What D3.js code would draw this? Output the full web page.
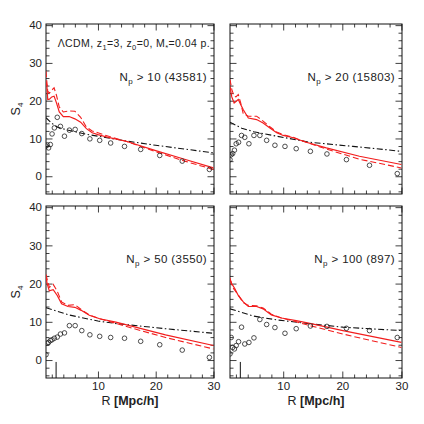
<!DOCTYPE html>
<html>
<head>
<meta charset="utf-8">
<script src="https://cdn.jsdelivr.net/npm/d3@7"></script>
<style>
body{margin:0;background:#fff}
text{font-family:"Liberation Sans",Arial,sans-serif;fill:#222}
</style>
</head>
<body>
<svg width="424" height="424"></svg>
<script>
// ---- data ----
var rBins = [1.0,1.2,1.45,1.75,2.05,2.45,2.95,3.5,4.2,5.05,6.05,7.2,8.6,10.3,12.2,14.6,17.4,20.7,24.6,29.3]

var dotsN10  = [8.0,8.3,7.5,8.4,11.2,12.8,15.6,13.2,10.6,12.2,12.4,11.3,9.9,9.5,8.8,7.9,7.1,5.5,4.0,1.8]
var dotsN20  = [4.4,5.7,6.0,6.9,8.6,9.0,10.8,10.3,8.6,10.8,10.8,9.5,8.2,7.9,7.3,6.6,5.9,4.4,2.9,0.7]
var dotsN50  = [1.4,4.4,4.6,5.1,5.3,5.7,6.0,6.8,7.1,9.0,9.0,7.7,6.6,6.2,5.9,5.7,4.9,4.0,2.6,0.7]
var dotsN100 = [1.6,5.9,3.3,2.9,3.8,4.8,8.6,4.2,4.6,5.8,10.6,9.3,8.5,7.0,8.2,8.9,8.8,8.3,7.7,5.9]

// red solid / red dashed model curves: [R, S4]
var solidN10  = [[1,25],[1.15,24],[1.3,20.3],[1.6,20.4],[2,21],[2.4,21.2],[2.8,19.5],[3.3,17],[4,15.8],[5,15.8],[6,15.2],[7,14.3],[8,12.6],[9,11.5],[10,11],[12,10.2],[15,9.2],[20,6.8],[25,4.5],[30,2.2]]
var dashN10   = [[1,27.8],[1.15,25],[1.3,22.5],[1.6,22],[2,22.8],[2.4,23.4],[2.8,21.5],[3.3,18.3],[4,17],[5,17.3],[6,17.2],[7,15.6],[8,13],[9,12],[10,11.5],[12,10.5],[15,9.2],[20,6.5],[25,4],[30,1.8]]
var solidN20  = [[1,23.8],[1.3,21],[1.7,19.4],[2,19.8],[2.4,20.3],[2.8,19],[3.25,17.6],[4.1,15.4],[5.5,15],[6.6,14.1],[7.75,12.8],[8.9,11.5],[10,10.8],[11.7,10.2],[13.9,9],[17.3,7.5],[22.9,5.3],[30,3.1]]
var dashN20   = [[1,25.6],[1.3,23],[1.7,21.2],[2,21],[2.4,21.6],[2.8,19.5],[3.25,16.5],[4.1,15.9],[5.5,15.9],[6.6,14.6],[7.75,13.1],[8.9,11.7],[10,11],[11.7,10.3],[13.9,9],[17.3,7.2],[22.9,4.5],[30,2.2]]
var solidN50  = [[1,21.7],[1.2,20],[1.57,18.1],[2.25,18.4],[2.95,16.9],[3.7,14.7],[4.8,14],[6,13.8],[7.1,13],[8.5,11.7],[10.3,10.8],[13.1,9.9],[16,8.8],[21.7,6.6],[30,3.8]]
var dashN50   = [[1,22.4],[1.3,20.5],[1.6,19],[2.25,19.8],[2.95,18],[3.7,15.2],[4.8,14.3],[6,14.5],[7.1,13.2],[8.5,11.8],[10.3,10.8],[13.1,9.6],[16,8.3],[21.7,5.9],[30,2.9]]
var solidN100 = [[1,21.5],[1.2,20],[1.45,19.6],[1.8,18.7],[2.4,16.9],[3.25,15.2],[4.1,14],[5.5,14],[6.6,13.4],[8,11.8],[9.7,11],[12.2,10.3],[14.5,9.6],[20.1,7.7],[30,4.6]]
var dashN100  = [[1,21],[1.2,20.5],[1.45,19],[1.8,18.3],[2.4,17],[3.25,15],[4.1,14.3],[5.5,14.2],[6.6,13.6],[8,12],[9.7,11],[12.2,10],[14.5,9],[20.1,6.8],[30,3.3]]

// black dash-dot reference curve: [R, S4]
var dotdashN10  = [[1,15.5],[2,14],[3,13],[4.5,12.3],[6,11.8],[8,11.1],[10,10.6],[15,9.3],[20,8.2],[25,7.2],[30,6.2]]
var dotdashN20  = [[1,14.3],[3,12.7],[5,11.8],[8.9,10.6],[14.5,9],[21.8,7.9],[30,6.6]]
var dotdashN50  = [[1,13.7],[5,11.8],[10,10.2],[13.4,9.5],[21.7,8.2],[30,7]]
var dotdashN100 = [[1,13.4],[5,11.5],[8.9,10.5],[14.5,9.5],[20.1,8.6],[30,7.7]]

var labelN = ["10 (43581)","20 (15803)","50 (3550)","100 (897)"]
var smoothR = 2.75   // vertical marker in lower panels
var xMajor = [10,20,30]
var xMinor = [2,4,6,8,12,14,16,18,22,24,26,28]
var yMajor = [0,10,20,30,40]
var yMinor = [-4,-2,2,4,6,8,12,14,16,18,22,24,26,28,32,34,36,38]

var panels = [
    {x0:46, x1:214, y0:24, y1:194, dots:dotsN10, solid:solidN10, dash:dashN10, dd:dotdashN10, lab:labelN[0], left:true, bottom:false, model:true},
    {x0:230, x1:402, y0:24, y1:194, dots:dotsN20, solid:solidN20, dash:dashN20, dd:dotdashN20, lab:labelN[1], left:false, bottom:false},
    {x0:46, x1:214, y0:206, y1:378, dots:dotsN50, solid:solidN50, dash:dashN50, dd:dotdashN50, lab:labelN[2], left:true, bottom:true},
    {x0:230, x1:402, y0:206, y1:378, dots:dotsN100, solid:solidN100, dash:dashN100, dd:dotdashN100, lab:labelN[3], left:false, bottom:true}
]

var svg = d3.select("svg")

panels.forEach(function(p, i)
{
    var x = d3.scaleLinear().domain([1,30.1]).range([p.x0,p.x1])
    var y = d3.scaleLinear().domain([-4.7,40.3]).range([p.y1,p.y0])
    var g = svg.append("g")

    var clipId = "clip"+i
    g.append("clipPath").attr("id",clipId)
        .append("rect")
        .attr("x",p.x0).attr("y",p.y0)
        .attr("width",p.x1-p.x0).attr("height",p.y1-p.y0)

    // ticks on all four sides, pointing inward
    var sides = [
        [d3.axisBottom, "translate(0,"+p.y1+")", x, xMajor, xMinor, p.bottom],
        [d3.axisTop, "translate(0,"+p.y0+")", x, xMajor, xMinor, false],
        [d3.axisLeft, "translate("+p.x0+",0)", y, yMajor, yMinor, p.left],
        [d3.axisRight, "translate("+p.x1+",0)", y, yMajor, yMinor, false]
    ]
    sides.forEach(function(s)
    {
        var maj = s[0](s[2]).tickValues(s[3]).tickSize(-6.5).tickPadding(4)
        if (!s[5]) maj.tickFormat("")
        var ga = g.append("g").attr("transform",s[1]).call(maj)
        ga.select(".domain").remove()
        ga.selectAll("text").attr("font-size",11.5).style("font-family","Liberation Sans, Arial, sans-serif").attr("fill","#333")
        var mn = g.append("g").attr("transform",s[1])
            .call(s[0](s[2]).tickValues(s[4]).tickSize(-3.5).tickFormat(""))
        mn.select(".domain").remove()
    })
    g.selectAll(".tick line").attr("stroke","#111").attr("stroke-width",0.8)

    g.append("rect")
        .attr("x",p.x0).attr("y",p.y0)
        .attr("width",p.x1-p.x0).attr("height",p.y1-p.y0)
        .attr("fill","none").attr("stroke","#111").attr("stroke-width",1)

    var line = d3.line().x(function(d){return x(d[0])}).y(function(d){return y(d[1])})
    var plot = g.append("g").attr("clip-path","url(#"+clipId+")")

    plot.append("path").attr("d",line(p.dd))
        .attr("fill","none").attr("stroke","#111").attr("stroke-width",1.1)
        .attr("stroke-dasharray","6,2.5,1.5,2.5")
    plot.append("path").attr("d",line(p.dash))
        .attr("fill","none").attr("stroke","#f21d1d").attr("stroke-width",1.1)
        .attr("stroke-dasharray","6,3")
    plot.append("path").attr("d",line(p.solid))
        .attr("fill","none").attr("stroke","#f21d1d").attr("stroke-width",1.2)

    plot.selectAll("circle").data(p.dots).enter().append("circle")
        .attr("cx",function(d,k){return x(rBins[k])})
        .attr("cy",function(d){return y(d)})
        .attr("r",2.3)
        .attr("fill","none").attr("stroke","#222").attr("stroke-width",0.8)

    if (p.bottom)
    {
        plot.append("line")
            .attr("x1",x(smoothR)).attr("x2",x(smoothR))
            .attr("y1",y(-4.7)).attr("y2",y(-0.5))
            .attr("stroke","#111").attr("stroke-width",1)
        g.append("text")
            .attr("x",(p.x0+p.x1)/2).attr("y",405)
            .attr("text-anchor","middle").attr("font-size",12.5)
            .html('R <tspan font-weight="bold">[Mpc/h]</tspan>')
    }
    if (p.left)
    {
        var yl = g.append("text")
            .attr("transform","translate(20,"+((p.y0+p.y1)/2)+") rotate(-90)")
            .attr("text-anchor","middle").attr("font-size",12.5)
        yl.append("tspan").text("S")
        yl.append("tspan").attr("font-size",8).attr("dy",3).text("4")
    }

    var t = g.append("text").attr("x",p.x1-7).attr("y",p.y0+57)
        .attr("text-anchor","end").attr("font-size",11.5).attr("letter-spacing",0.4)
    t.append("tspan").text("N")
    t.append("tspan").attr("font-size",8).attr("dy",3).text("p")
    t.append("tspan").attr("dy",-3).text(" > "+p.lab)

    if (p.model)
    {
        var m = g.append("text").attr("x",p.x1-4).attr("y",p.y0+23)
            .attr("text-anchor","end").attr("font-size",10.5).attr("letter-spacing",0.4)
        m.append("tspan").text("\u039BCDM,  z")
        m.append("tspan").attr("font-size",7.5).attr("dy",2.5).text("1")
        m.append("tspan").attr("dy",-2.5).text("=3,  z")
        m.append("tspan").attr("font-size",7.5).attr("dy",2.5).text("0")
        m.append("tspan").attr("dy",-2.5).text("=0,  M")
        m.append("tspan").attr("font-size",7.5).attr("dy",2.5).text("*")
        m.append("tspan").attr("dy",-2.5).text("=0.04  p.")
    }
})
</script>
</body>
</html>
